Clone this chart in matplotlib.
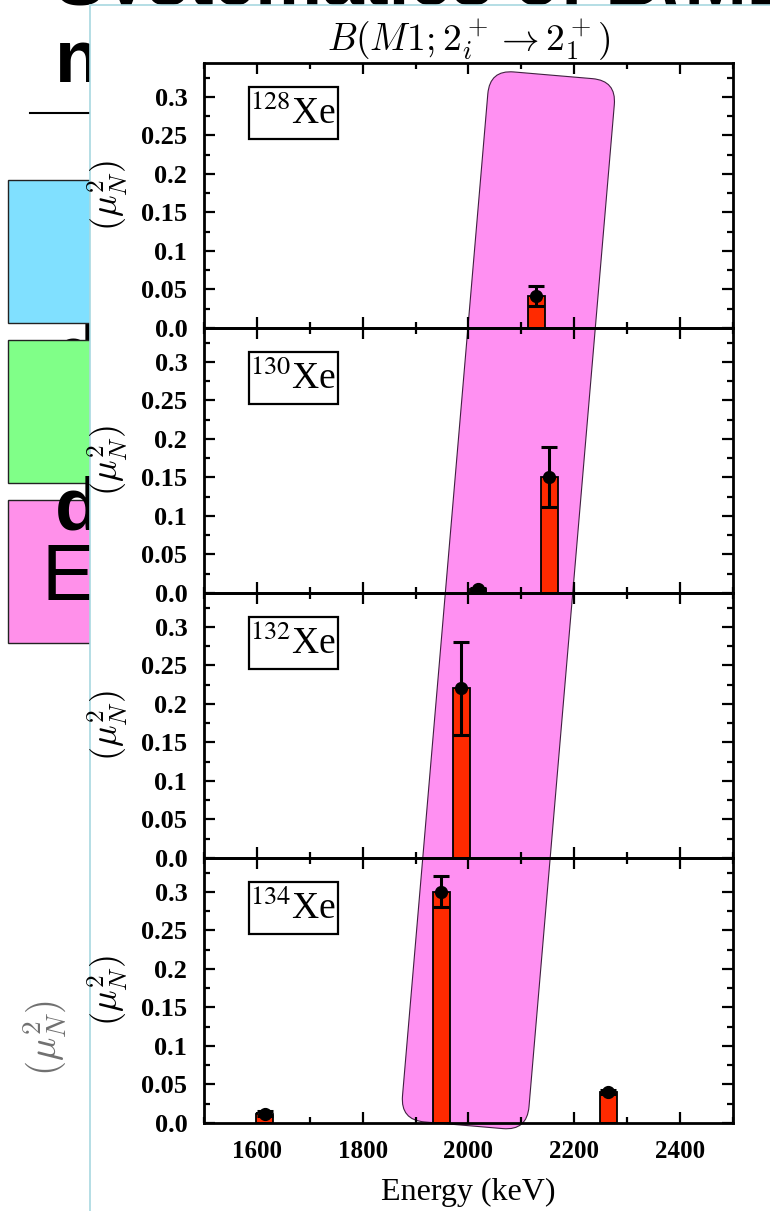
import numpy as np
import matplotlib.pyplot as plt
from matplotlib.patches import Rectangle, FancyBboxPatch
from matplotlib.transforms import Affine2D, IdentityTransform

plt.rcParams['font.family'] = ['Liberation Serif', 'DejaVu Serif']
plt.rcParams['mathtext.fontset'] = 'stix'

# B(M1) strengths per isotope
nuclei = ['128', '130', '132', '134']
energies = [[2128], [2018, 2153], [1986], [1615, 1949, 2264]]
strengths = [[0.042], [0.005, 0.150], [0.220], [0.012, 0.300, 0.040]]
err_lo = [[0.013], [0.002, 0.038], [0.060], [0.003, 0.020, 0.003]]
err_hi = [[0.013], [0.002, 0.040], [0.060], [0.003, 0.020, 0.003]]

ytick_vals = [0.0, 0.05, 0.1, 0.15, 0.2, 0.25, 0.3]
ytick_labels = ['0.0', '0.05', '0.1', '0.15', '0.2', '0.25', '0.3']
xtick_vals = [1600, 1800, 2000, 2200, 2400]

# highlighted band: centre energy at top of first panel / bottom of last one
band_top_e, band_bot_e, band_width_e = 2160, 1991, 240

W, H = 770, 1211
fig = plt.figure(figsize=(W / 100, H / 100), dpi=100)

# 
# Slide behind the pasted chart
# 
bg = fig.add_axes([0, 0, 1, 1], zorder=-3)
bg.set_xlim(0, W)
bg.set_ylim(H, 0)
bg.axis('off')

sans = ['Liberation Sans', 'DejaVu Sans']
bg.text(55, 5, 'Systematics of B(M1; 2', fontsize=54, fontweight='bold',
        family=sans, va='baseline', zorder=1)
bg.text(55, 82, 'n', fontsize=54, fontweight='bold', family=sans,
        va='baseline', zorder=1)
bg.plot([30, 95], [113, 113], color='black', lw=1.5, zorder=1)

for y0, y1, col in [(180, 323, '#80e0ff'), (340, 483, '#80ff88'),
                    (500, 643, '#ff90ea')]:
    bg.add_patch(Rectangle((8, y0), 120, y1 - y0, fc=col, ec='#222222',
                           lw=1.0, zorder=2))
bg.text(55, 377, 'd', fontsize=54, fontweight='bold', family=sans,
        va='baseline', zorder=1.5)
bg.text(55, 530, 'd', fontsize=54, fontweight='bold', family=sans,
        va='baseline', zorder=3)
bg.text(42, 600, 'E', fontsize=57, family=sans, va='baseline', zorder=3)

# white frame of the pasted chart
bg.add_patch(Rectangle((90, 5), 720, 1250, fc='white', ec='#a8d8e0',
                       lw=1.2, zorder=5))
bg.text(45, 1038, r'$(\mu_N^2)$', fontsize=28, rotation=90, ha='center',
        va='center', color='#707070', math_fontfamily='cm', zorder=6)

# 
# Stacked panels
# 
axes = fig.subplots(4, 1, sharex=True)
fig.subplots_adjust(left=0.2649, right=0.9519, bottom=0.0727, top=0.948,
                    hspace=0)

for i, ax in enumerate(axes):
    ax.set_facecolor('none')
    ax.bar(energies[i], strengths[i], width=32, color='#ff2a00',
           edgecolor='black', lw=1.3, zorder=2)
    ax.errorbar(energies[i], strengths[i], yerr=[err_lo[i], err_hi[i]],
                fmt='o', color='black', ms=8.5, elinewidth=2.2, capsize=5.5,
                capthick=2.2, zorder=3)
    ax.set_xlim(1500, 2500)
    ax.set_ylim(0, 0.344)
    ax.set_yticks(ytick_vals)
    ax.set_yticklabels(ytick_labels)
    ax.set_yticks(np.arange(0.025, 0.344, 0.05), minor=True)
    ax.set_xticks(xtick_vals)
    ax.set_xticks(np.arange(1500, 2501, 100), minor=True)
    ax.tick_params(which='both', direction='in', top=True, right=True,
                   width=1.6, pad=12)
    ax.tick_params(axis='y', labelsize=19)
    ax.tick_params(axis='x', labelsize=18)
    ax.tick_params(which='major', length=8)
    ax.tick_params(which='minor', length=4)
    for lab in ax.get_xticklabels() + ax.get_yticklabels():
        lab.set_fontweight('bold')
    for s in ax.spines.values():
        s.set_linewidth(2)
    ax.set_ylabel(r'$(\mu_N^2)$', fontsize=26, math_fontfamily='cm')
    ax.yaxis.set_label_coords(-0.14, 0.5)
    # isotope label in a framed box
    ax.add_patch(Rectangle((0.085, 0.713), 0.168, 0.196, fc='white',
                           ec='black', lw=1.6, transform=ax.transAxes,
                           zorder=4))
    ax.text(0.169, 0.808, r'$^{%s}$Xe' % nuclei[i], transform=ax.transAxes,
            fontsize=27, ha='center', va='center', zorder=5)

axes[0].set_title(r'$B(M1;2_i^+\rightarrow2_1^+)$', fontsize=27, pad=8,
                  math_fontfamily='cm')
axes[-1].set_xlabel('Energy (keV)', fontsize=23, labelpad=11)

# pink band across all panels, drawn in display pixels behind the axes
p_top = axes[0].transData.transform((band_top_e, 0.328))
p_bot = axes[-1].transData.transform((band_bot_e, -0.003))
px_per_kev = (axes[0].transData.transform((2500, 0))[0]
              - axes[0].transData.transform((1500, 0))[0]) / 1000
bw = band_width_e * px_per_kev
cx, cy = (p_top + p_bot) / 2
dx, dy = p_top - p_bot
length = np.hypot(dx, dy)
ang = np.degrees(np.arctan2(dx, dy))
band = FancyBboxPatch((cx - bw / 2, cy - length / 2), bw, length,
                      boxstyle='round,pad=0,rounding_size=24',
                      fc='#ff90f2', ec='#402040', lw=0.8, zorder=-1,
                      transform=Affine2D().rotate_deg_around(cx, cy, -ang)
                      + IdentityTransform())
fig.patches.append(band)

plt.savefig('out.png', dpi=100)
plt.close()
